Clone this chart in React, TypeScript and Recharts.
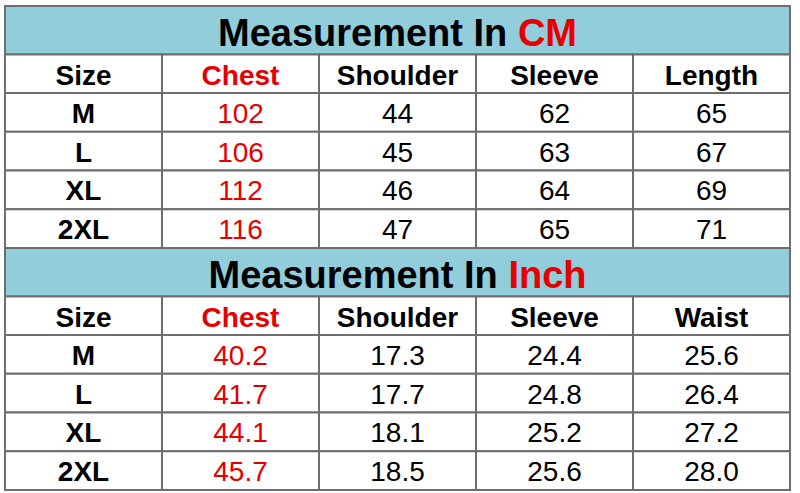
import React from 'react';
import { ComposedChart, XAxis, YAxis, ReferenceArea } from 'recharts';

// table content
const cmHeaders = ['Size', 'Chest', 'Shoulder', 'Sleeve', 'Length'];
const inchHeaders = ['Size', 'Chest', 'Shoulder', 'Sleeve', 'Waist'];
const sizes = ['M', 'L', 'XL', '2XL'];

const cmChest = [102, 106, 112, 116];
const cmShoulder = [44, 45, 46, 47];
const cmSleeve = [62, 63, 64, 65];
const cmLength = [65, 67, 69, 71];

const inchChest = [40.2, 41.7, 44.1, 45.7];
const inchShoulder = [17.3, 17.7, 18.1, 18.5];
const inchSleeve = [24.4, 24.8, 25.2, 25.6];
const inchWaist = [25.6, 26.4, 27.2, 28.0];

const FONT = '"Liberation Sans", Arial, sans-serif';
const RED = '#e50000';
const TITLE_BG = '#92cddc';
const GRID = '#6e6e6e';

const TITLE_H = 1.25;

type Section = {
  unit: string;
  headers: string[];
  columns: number[][];
  decimals: number;
};

const sections: Section[] = [
  { unit: 'CM', headers: cmHeaders, columns: [cmChest, cmShoulder, cmSleeve, cmLength], decimals: 0 },
  { unit: 'Inch', headers: inchHeaders, columns: [inchChest, inchShoulder, inchSleeve, inchWaist], decimals: 1 },
];

const cellText = (text: string, color: string, size: number, bold: boolean, dy = 0) => (props: any) => {
  const { x, y, width, height } = props.viewBox;
  return (
    <text
      x={x + width / 2}
      y={y + height / 2 + size * 0.358 + dy}
      textAnchor="middle"
      fill={color}
      fontFamily={FONT}
      fontSize={size}
      fontWeight={bold ? 700 : 400}
    >
      {text}
    </text>
  );
};

const titleText = (unit: string) => (props: any) => {
  const { x, y, width, height } = props.viewBox;
  return (
    <text
      x={x + width / 2}
      y={y + height / 2 + 38 * 0.358 + 2}
      textAnchor="middle"
      fontFamily={FONT}
      fontSize={38}
      fontWeight={700}
      fill="#000"
    >
      <tspan>Measurement In </tspan>
      <tspan fill={RED}>{unit}</tspan>
    </text>
  );
};

export default function App() {
  const areas: React.ReactNode[] = [];
  let top = 0;
  sections.forEach((s, si) => {
    areas.push(
      <ReferenceArea
        key={`title-${si}`}
        x1={0}
        x2={5}
        y1={top}
        y2={top + TITLE_H}
        fill={TITLE_BG}
        fillOpacity={1}
        stroke={GRID}
        strokeWidth={2}
        label={{ content: titleText(s.unit) }}
      />
    );
    top += TITLE_H;
    s.headers.forEach((h, ci) => {
      areas.push(
        <ReferenceArea
          key={`head-${si}-${ci}`}
          x1={ci}
          x2={ci + 1}
          y1={top}
          y2={top + 1}
          fill="#fff"
          fillOpacity={1}
          stroke={GRID}
          strokeWidth={2}
          label={{ content: cellText(h, ci === 1 ? RED : '#000', 28, true, 1.5) }}
        />
      );
    });
    top += 1;
    sizes.forEach((size, ri) => {
      const row = [size, ...s.columns.map((col) => col[ri].toFixed(s.decimals))];
      row.forEach((v, ci) => {
        areas.push(
          <ReferenceArea
            key={`cell-${si}-${ri}-${ci}`}
            x1={ci}
            x2={ci + 1}
            y1={top}
            y2={top + 1}
            fill="#fff"
            fillOpacity={1}
            stroke={GRID}
            strokeWidth={2}
            label={{ content: cellText(v, ci === 1 ? RED : '#000', 28, ci === 0, 0.5) }}
          />
        );
      });
      top += 1;
    });
  });

  return (
    <div style={{ position: 'absolute', left: 0, top: 0, width: 800, height: 493, background: '#fff' }}>
      <ComposedChart width={800} height={493} data={[]} margin={{ top: 6, right: 10, bottom: 3, left: 5 }}>
        <XAxis type="number" dataKey="x" domain={[0, 5]} hide allowDataOverflow />
        <YAxis type="number" dataKey="y" domain={[0, 2 * (TITLE_H + 5)]} reversed hide allowDataOverflow />
        {areas}
      </ComposedChart>
    </div>
  );
}
